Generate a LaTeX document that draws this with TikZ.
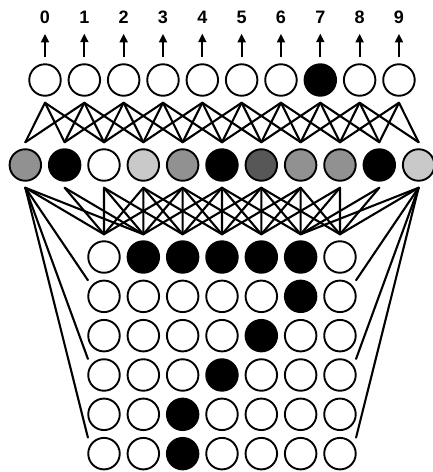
\documentclass[tikz,border=0pt]{standalone}
\usepackage{fontspec}
\setmainfont{Liberation Sans}
\usetikzlibrary{arrows.meta}
\definecolor{ActMid}{gray}{0.57}
\definecolor{ActLight}{gray}{0.79}
\definecolor{ActDark}{gray}{0.34}

\begin{document}
\begin{tikzpicture}[
x=1pt,y=-1pt,
unit/.style={circle,draw=black,line width=1.9pt,fill=white,inner sep=0pt,
minimum size=31.5pt,outer sep=7pt},
px0/.style={unit},
px1/.style={unit,fill=black},
digit/.style={font=\fontsize{18}{20}\selectfont\bfseries,inner sep=0pt,outer sep=10pt},
wire/.style={line width=2.1pt,line cap=round},
arrow/.style={-{Triangle[length=8.5pt,width=8pt]},line width=1.9pt}
]
\useasboundingbox (0,0) rectangle (432,472);

% output layer with class labels
\foreach \f [count=\j from 0] in {white,white,white,white,white,white,white,black,white,white}{
  \node[unit,fill=\f] (o\j) at (45+39.33*\j,80) {};
  \node[digit] (l\j) at (45+39.33*\j,17.5) {\j};
  \draw[arrow] (o\j.north) -- (l\j.south);
}

% hidden layer
\foreach \f [count=\i from 0] in {ActMid,black,white,ActLight,ActMid,black,ActDark,ActMid,ActMid,black,ActLight}
  \node[unit,fill=\f] (h\i) at (25.33+39.33*\i,165) {};

% input pixels (digit 7)
\foreach \row [count=\r from 0] in {{0,1,1,1,1,1,0},{0,0,0,0,0,1,0},{0,0,0,0,1,0,0},
  {0,0,0,1,0,0,0},{0,0,1,0,0,0,0},{0,0,1,0,0,0,0}}
  \foreach \v [count=\c from 0] in \row
    \node[px\v] (g-\r-\c) at (104+39.33*\c,257+39.33*\r) {};

% output <-> hidden
\foreach \j in {0,...,9}
  \foreach \k in {-1,...,2}{
    \pgfmathtruncatemacro\i{\j+\k}
    \ifnum\i>-1 \ifnum\i<11 \draw[wire] (o\j.south) -- (h\i.north); \fi\fi
  }

% hidden <-> input
\foreach \c in {0,...,6}
  \foreach \k in {-2,...,2}{
    \pgfmathtruncatemacro\i{\c+2+\k}
    \draw[wire] (h\i.south) -- (g-0-\c.north);
  }
\draw[wire] (h0.south) -- (g-0-1.north);
\draw[wire] (h10.south) -- (g-0-5.north);
\foreach \r in {1,3,5}{
  \draw[wire] (h0.south) -- (g-\r-0.north west);
  \draw[wire] (h10.south) -- (g-\r-6.north east);
}
\end{tikzpicture}
\end{document}
